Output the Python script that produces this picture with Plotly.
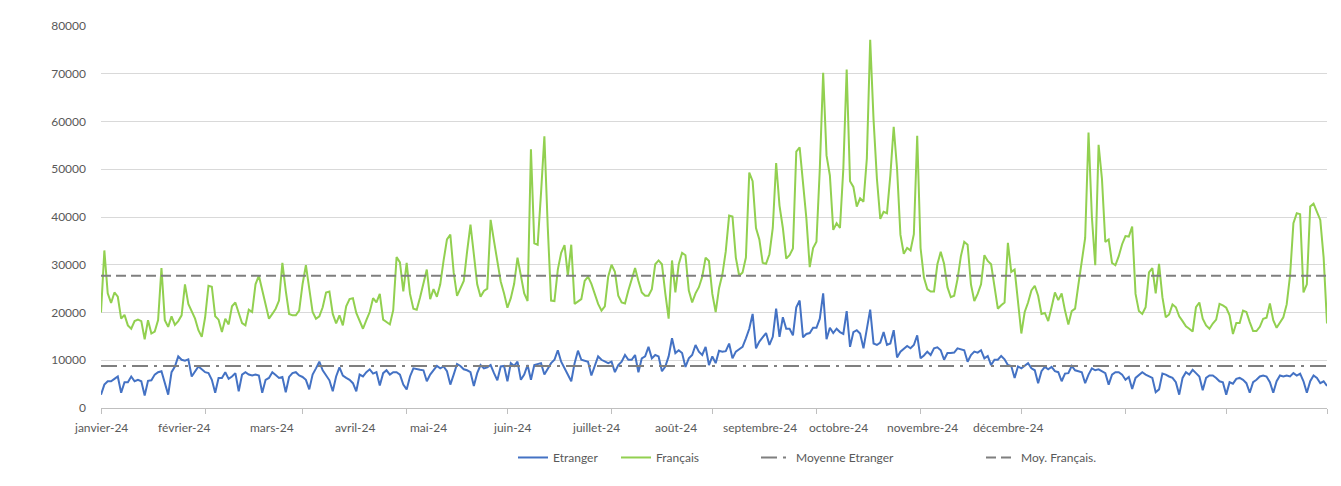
import pandas as pd
import plotly.graph_objects as go

# ---- Data (daily values) ----
francais_jan = [20000, 33000, 24000, 22000, 24200, 23300, 18700, 19500, 17300, 16600, 18200, 18500, 18200, 14400, 18400, 15600,
                16000, 18400, 29300, 18400, 17000, 19200, 17400, 18200, 19400, 25900, 21800, 20100, 18700, 16300, 14900]
francais_feb = [19000, 25600, 25400, 19200, 18500, 15900, 18700, 17500, 21300, 22100, 19900, 17800, 17300, 20600, 20100, 25900,
                27700, 24900, 21800, 18700, 19700, 20800, 22500, 30400, 24600, 19700, 19400, 19400, 20400]
francais_mar = [25900, 29900, 24600, 20100, 18700, 19200, 21100, 24200, 24400, 19700, 17700, 19400, 17300, 21300, 22800, 23000,
                19900, 18200, 16600, 18400, 20100, 23000, 22100, 23900, 18500, 18000, 17500, 20500, 31600, 30500, 24400]
francais_apr = [30400, 23900, 20800, 20600, 23200, 26000, 29000, 22800, 24900, 23300, 25900, 30900, 35300, 36300, 28400, 23500,
                24900, 26600, 32800, 38400, 32200, 25900, 23300, 24500, 25000, 39400, 35000, 30500, 26500, 24000]
francais_may = [21000, 23000, 26000, 31500, 28000, 24000, 22400, 54200, 34500, 34200, 45000, 56900, 38000, 22500, 22400, 29000,
                32500, 34100, 27700, 34200, 21800, 22400, 22800, 26600, 27500, 26000, 23800, 21800, 20400, 21300, 27500]
francais_jun = [30000, 28500, 23500, 22100, 21900, 24600, 27000, 29300, 26600, 24200, 23500, 23500, 24900, 30100, 30900, 30100,
                24000, 18700, 30900, 24200, 30100, 32500, 32000, 24600, 22100, 24000, 25300, 27500, 31500, 30800]
francais_jul = [23900, 20100, 25100, 28000, 32800, 40300, 40100, 31500, 27700, 28400, 31500, 49300, 47500, 37700, 35300, 30400,
                30200, 32200, 37700, 51300, 42400, 37700, 31300, 32000, 33400, 53700, 54600, 47000, 39700, 29500, 33500]
francais_aug = [34800, 50100, 70200, 52900, 48700, 37300, 38700, 37700, 50100, 70900, 47500, 46300, 42200, 43900, 43200, 52200,
                77100, 60400, 48000, 39600, 41100, 40800, 48700, 58900, 50100, 36300, 32300, 33500, 33000, 36400, 57000]
francais_sep = [33500, 27300, 24900, 24400, 24400, 30100, 32700, 30200, 25300, 23200, 23500, 27000, 31800, 34800, 34200, 25900,
                22400, 23900, 25900, 32000, 30800, 30100, 25400, 20800, 21500, 22100, 34600, 28500, 29000, 21800]
francais_oct = [15600, 20100, 22100, 24600, 25600, 23500, 19700, 19900, 18200, 21100, 24200, 22600, 24000, 20400, 17500, 20300,
                20800, 25900, 30400, 35600, 57700, 40000, 29900, 55100, 48000, 34800, 35300, 30400, 29900, 31800, 34300]
francais_nov = [36000, 35900, 38000, 23900, 20300, 19700, 21100, 28400, 29300, 24000, 30200, 23200, 19000, 19600, 21700, 21100,
                19200, 18200, 17100, 16600, 16000, 21100, 22100, 18700, 17300, 16600, 17700, 18500, 21800, 21500]
francais_dec = [21000, 19400, 15500, 17800, 17800, 20400, 20100, 18000, 16100, 16100, 17000, 18700, 18900, 21900, 18400, 16800,
                17800, 19000, 21700, 27700, 38700, 40800, 40600, 24200, 25900, 42200, 42800, 41100, 39400, 31500, 17700]

etranger_jan = [2800, 4900, 5600, 5600, 6100, 6600, 3200, 5400, 5400, 6600, 5600, 5900, 5600, 2600, 5700, 5800,
                7000, 7500, 7700, 5200, 2800, 7500, 8700, 10800, 10100, 9900, 10200, 6600, 7700, 8700, 8100]
etranger_feb = [7500, 7300, 5900, 3200, 6300, 6300, 7500, 6100, 6600, 7300, 3500, 7000, 7500, 7000, 6800, 7000,
                6800, 3200, 5900, 6300, 7500, 6900, 6300, 6500, 3300, 6500, 7300, 7500, 6800]
etranger_mar = [6500, 5900, 3900, 7000, 8300, 9700, 7900, 6800, 5800, 3500, 6600, 8500, 6800, 6300, 5900, 5200,
                3500, 7000, 6600, 7500, 8100, 7200, 7500, 4700, 7300, 7900, 7000, 7500, 7500, 7000, 4900]
etranger_apr = [3900, 6600, 8300, 8100, 8000, 7900, 5600, 7000, 7900, 8800, 8300, 8700, 7700, 4900, 7000, 9200,
                8800, 8100, 7900, 7500, 4600, 7300, 9000, 8300, 8500, 9000, 7300, 5800, 8700, 8800]
etranger_may = [5600, 9400, 8800, 9700, 5900, 7000, 9000, 5900, 9000, 9200, 9400, 7000, 8300, 9400, 10100, 12100,
                9700, 8300, 7000, 5600, 9400, 12000, 10100, 9900, 9700, 6800, 9000, 10800, 10100, 9700, 9400]
etranger_jun = [9700, 7500, 9000, 9700, 11100, 10100, 10100, 11100, 7500, 10400, 10800, 12800, 10400, 11100, 10800, 7700,
                8700, 10800, 14600, 11500, 12100, 11500, 8600, 10400, 11100, 13200, 11800, 11100, 12800, 9000]
etranger_jul = [10800, 9400, 12000, 11800, 11900, 13500, 10400, 11800, 12300, 12800, 14600, 16600, 19700, 12500, 13900, 14900,
                15700, 13200, 14900, 20800, 14900, 19000, 16600, 16600, 15200, 21100, 22500, 14800, 15500, 15700, 16800]
etranger_aug = [16800, 18700, 24000, 14400, 16800, 15700, 16600, 15900, 15500, 20300, 12800, 15900, 16300, 15600, 12500, 16300,
                20600, 13500, 13200, 13700, 15900, 13200, 13500, 16300, 10600, 11800, 12500, 13000, 12500, 13200, 15200]
etranger_sep = [10400, 11000, 11800, 11100, 12500, 12700, 12100, 10100, 11500, 11500, 11600, 12500, 12300, 12100, 9700, 11100,
                11800, 11600, 12100, 10400, 10900, 9000, 10100, 10100, 10900, 10200, 9000, 8800, 6300, 8700]
etranger_oct = [8300, 8800, 9400, 8300, 7900, 5200, 7700, 8600, 8100, 8600, 7700, 7500, 5600, 7200, 7300, 8800,
                7900, 7700, 7500, 5200, 7000, 8300, 7900, 8100, 7700, 7300, 4900, 7000, 7500, 7500, 7000]
etranger_nov = [5900, 6500, 4000, 6300, 7000, 7500, 7000, 6600, 6300, 3300, 3900, 7200, 7000, 6600, 6300, 5400,
                2800, 6300, 7500, 7000, 8000, 7300, 6600, 3700, 6300, 6800, 6800, 6300, 5600, 5400]
etranger_dec = [2800, 5400, 5100, 6100, 6300, 5900, 5200, 3200, 5400, 5900, 6600, 6800, 6600, 5400, 3200, 5600,
                6800, 6600, 6800, 6600, 7300, 6800, 7200, 5600, 3200, 5600, 6800, 6300, 5200, 5600, 4600]

moyenne_etranger = 8800
moyenne_francais = 27700

month_labels = ["janvier-24", "février-24", "mars-24", "avril-24", "mai-24", "juin-24", "juillet-24",
                "août-24", "septembre-24", "octobre-24", "novembre-24", "décembre-24"]
series_names = ["Etranger", "Français", "Moyenne Etranger", "Moy. Français."]

# ---- Build series ----
francais = (francais_jan + francais_feb + francais_mar + francais_apr + francais_may + francais_jun +
            francais_jul + francais_aug + francais_sep + francais_oct + francais_nov + francais_dec)
etranger = (etranger_jan + etranger_feb + etranger_mar + etranger_apr + etranger_may + etranger_jun +
            etranger_jul + etranger_aug + etranger_sep + etranger_oct + etranger_nov + etranger_dec)
dates = pd.date_range("2024-01-01", periods=len(francais), freq="D")

# ---- Layout geometry ----
# The page body has an 8px margin, so the figure is drawn 8px in from the window's top-left.
BODY = 8
W, H = 1341 - 2 * BODY, 486 - 2 * BODY
PLOT_X0, PLOT_X1 = 101, 1327      # page pixels of the plot area
PLOT_Y0, PLOT_Y1 = 26, 412
L = PLOT_X0 - BODY
T = PLOT_Y0 - BODY
R = W - (PLOT_X1 - BODY)
B = H - (PLOT_Y1 - BODY)
PW = PLOT_X1 - PLOT_X0
PH = PLOT_Y1 - PLOT_Y0


def px_x(p):
    return (p - PLOT_X0) / PW


def px_y(p):
    return (PLOT_Y1 - p) / PH


GRAY_TXT = "#595959"
FONT = "Lato, 'Liberation Sans', sans-serif"

fig = go.Figure()
fig.add_trace(go.Scatter(x=dates, y=etranger, name=series_names[0], mode="lines",
                         line=dict(color="#4472C4", width=2), legend="legend"))
fig.add_trace(go.Scatter(x=dates, y=francais, name=series_names[1], mode="lines",
                         line=dict(color="#92D050", width=2), legend="legend2"))
fig.add_trace(go.Scatter(x=[dates[0], dates[-1]], y=[moyenne_etranger, moyenne_etranger], name=series_names[2],
                         mode="lines", line=dict(color="#7F7F7F", width=2, dash="16px,6px,3px,6px"),
                         legend="legend3"))
fig.add_trace(go.Scatter(x=[dates[0], dates[-1]], y=[moyenne_francais, moyenne_francais], name=series_names[3],
                         mode="lines", line=dict(color="#7F7F7F", width=2, dash="10px,5px"),
                         legend="legend4"))

month_starts = list(pd.date_range("2024-01-01", "2024-12-01", freq="MS")) + [dates[-1]]

# month label pixel centres as seen in the reference
label_px = [101, 184, 272, 355, 428, 512, 596, 676, 760, 838, 922, 1008]
annotations = []
for lab, p in zip(month_labels, label_px):
    annotations.append(dict(text=lab, x=px_x(p), y=px_y(432), xref="paper", yref="paper",
                            xanchor="center", yanchor="middle", showarrow=False,
                            font=dict(family=FONT, size=12, color=GRAY_TXT)))

leg_common = dict(orientation="h", yanchor="middle", xanchor="left", y=px_y(462),
                  font=dict(family=FONT, size=12, color=GRAY_TXT), bgcolor="rgba(0,0,0,0)")

fig.update_layout(
    width=W, height=H,
    margin=dict(l=L, r=R, t=T, b=B),
    paper_bgcolor="white", plot_bgcolor="white",
    font=dict(family=FONT, size=12, color=GRAY_TXT),
    showlegend=True,
    legend=dict(x=px_x(513), **leg_common),
    legend2=dict(x=px_x(616), **leg_common),
    legend3=dict(x=px_x(756), **leg_common),
    legend4=dict(x=px_x(981), **leg_common),
    annotations=annotations,
    xaxis=dict(type="date", range=[dates[0], dates[-1]], tickvals=month_starts, showticklabels=False,
               ticks="outside", ticklen=5, tickcolor="#BFBFBF", showline=True, linecolor="#BFBFBF",
               linewidth=1, showgrid=False, zeroline=False),
    yaxis=dict(range=[0, 80000], dtick=10000, tickformat="d", showgrid=True, gridcolor="#D9D9D9",
               gridwidth=1, zeroline=False, showline=False, ticks="", ticklabelstandoff=14,
               tickfont=dict(family=FONT, size=12, color=GRAY_TXT)),
)

fig.write_html("out.html")
